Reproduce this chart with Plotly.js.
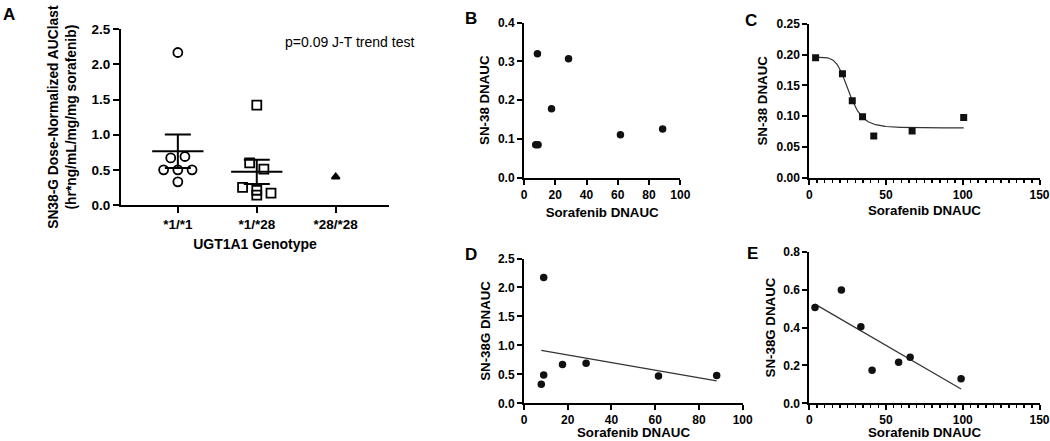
<!DOCTYPE html>
<html>
<head>
<meta charset="utf-8">
<script src="https://cdn.plot.ly/plotly-3.0.1.min.js"></script>
<style>html,body{margin:0;padding:0;background:#fff;}#chart{width:1050px;height:441px;}</style>
</head>
<body>
<div id="chart"></div>
<script>
// ---------- DATA ----------
const genotypes = ['*1/*1', '*1/*28', '*28/*28'];
const aucWildType = [2.17, 0.67, 0.69, 0.50, 0.50, 0.50, 0.33];      // *1/*1
const aucHetero   = [1.42, 0.60, 0.51, 0.25, 0.21, 0.17, 0.14];      // *1/*28
const aucHomo     = [0.40];                                          // *28/*28
const pText = 'p=0.09 J-T trend test';

const sorafenibB = [7.5, 9.0, 8.6, 17.6, 28.5, 61.7, 88.7];
const sn38B      = [0.085, 0.085, 0.320, 0.178, 0.307, 0.111, 0.126];

const sorafenibC = [4.1, 21.6, 28.0, 34.7, 42.0, 67.0, 100.6];
const sn38C      = [0.195, 0.169, 0.125, 0.099, 0.068, 0.076, 0.098];
// sigmoidal (Hill) fit parameters for panel C
const fitTop = 0.196, fitBottom = 0.081, fitEC50 = 26, fitHill = 6;

const sorafenibD = [9.0, 9.0, 7.9, 17.6, 28.4, 61.5, 88.1];
const sn38gD     = [2.17, 0.49, 0.33, 0.67, 0.69, 0.47, 0.48];

const sorafenibE = [3.7, 20.9, 33.6, 40.9, 58.2, 65.7, 98.9];
const sn38gE     = [0.505, 0.598, 0.404, 0.174, 0.216, 0.243, 0.130];

const xTitle = 'Sorafenib DNAUC';

// ---------- HELPERS ----------
const W = 1050, H = 441;
const FONT = 'Liberation Sans, Arial, Helvetica, sans-serif';
const dx = (a, b) => [a / W, b / W];
const dy = (top, bottom) => [1 - bottom / H, 1 - top / H];

function mean(a) { return a.reduce((s, v) => s + v, 0) / a.length; }
function sem(a) {
  if (a.length < 2) return 0;
  const m = mean(a);
  const v = a.reduce((s, x) => s + (x - m) * (x - m), 0) / (a.length - 1);
  return Math.sqrt(v / a.length);
}
// simple beeswarm: group close values into rows, spread each row symmetrically
function swarm(vals, center, thr, step) {
  const idx = vals.map((v, i) => i).sort((i, j) => vals[j] - vals[i]);
  const rows = [];
  idx.forEach(i => {
    const r = rows[rows.length - 1];
    if (r && Math.abs(vals[r[0]] - vals[i]) <= thr) r.push(i); else rows.push([i]);
  });
  const xs = new Array(vals.length);
  rows.forEach(r => {
    const ord = r.slice().sort((a, b) => a - b);
    ord.forEach((i, k) => { xs[i] = center + (k - (ord.length - 1) / 2) * step; });
  });
  return xs;
}
function linfit(x, y) {
  const mx = mean(x), my = mean(y);
  let sxy = 0, sxx = 0;
  x.forEach((xi, i) => { sxy += (xi - mx) * (y[i] - my); sxx += (xi - mx) * (xi - mx); });
  const b = sxy / sxx, a = my - b * mx;
  const x0 = Math.min(...x), x1 = Math.max(...x);
  return { x: [x0, x1], y: [a + b * x0, a + b * x1] };
}

const groups = [aucWildType, aucHetero, aucHomo];
const symbols = ['circle-open', 'square-open', 'triangle-up'];
const traces = [];

// ---------- PANEL A ----------
groups.forEach((g, gi) => {
  traces.push({
    x: swarm(g, gi, 0.1, 0.18), y: g, xaxis: 'x', yaxis: 'y',
    type: 'scatter', mode: 'markers', hoverinfo: 'y',
    marker: { symbol: symbols[gi], size: gi === 2 ? 7 : 9, color: '#000',
              line: { color: '#000', width: 1.8 } }
  });
  if (g.length > 1) {
    const m = mean(g), s = sem(g);
    traces.push({
      x: [gi - 0.325, gi + 0.325], y: [m, m], xaxis: 'x', yaxis: 'y',
      type: 'scatter', mode: 'lines', line: { color: '#000', width: 2 }, hoverinfo: 'skip'
    });
    traces.push({
      x: [gi], y: [m], xaxis: 'x', yaxis: 'y', type: 'scatter', mode: 'markers',
      marker: { size: 1, color: 'rgba(0,0,0,0)' },
      error_y: { type: 'data', array: [s], visible: true, color: '#000', thickness: 2, width: 13 },
      hoverinfo: 'skip'
    });
  }
});

// ---------- PANEL B ----------
traces.push({ x: sorafenibB, y: sn38B, xaxis: 'x2', yaxis: 'y2', type: 'scatter', mode: 'markers',
  marker: { symbol: 'circle', size: 7.5, color: '#111' } });

// ---------- PANEL C ----------
(function () {
  const x0 = Math.min(...sorafenibC), x1 = Math.max(...sorafenibC);
  const cx = [], cy = [];
  for (let i = 0; i <= 200; i++) {
    const x = x0 + (x1 - x0) * i / 200;
    cx.push(x);
    cy.push(fitBottom + (fitTop - fitBottom) / (1 + Math.pow(x / fitEC50, fitHill)));
  }
  traces.push({ x: cx, y: cy, xaxis: 'x3', yaxis: 'y3', type: 'scatter', mode: 'lines',
    line: { color: '#333', width: 1.2 }, hoverinfo: 'skip' });
})();
traces.push({ x: sorafenibC, y: sn38C, xaxis: 'x3', yaxis: 'y3', type: 'scatter', mode: 'markers',
  marker: { symbol: 'square', size: 7, color: '#111' } });

// ---------- PANEL D ----------
const fitD = linfit(sorafenibD, sn38gD);
traces.push({ x: fitD.x, y: fitD.y, xaxis: 'x4', yaxis: 'y4', type: 'scatter', mode: 'lines',
  line: { color: '#333', width: 1.2 }, hoverinfo: 'skip' });
traces.push({ x: sorafenibD, y: sn38gD, xaxis: 'x4', yaxis: 'y4', type: 'scatter', mode: 'markers',
  marker: { symbol: 'circle', size: 7.5, color: '#111' } });

// ---------- PANEL E ----------
const fitE = linfit(sorafenibE, sn38gE);
traces.push({ x: fitE.x, y: fitE.y, xaxis: 'x5', yaxis: 'y5', type: 'scatter', mode: 'lines',
  line: { color: '#333', width: 1.2 }, hoverinfo: 'skip' });
traces.push({ x: sorafenibE, y: sn38gE, xaxis: 'x5', yaxis: 'y5', type: 'scatter', mode: 'markers',
  marker: { symbol: 'circle', size: 7.5, color: '#111' } });

// ---------- LAYOUT ----------
function ax(extra) {
  return Object.assign({
    showline: true, linecolor: '#000', linewidth: 2, mirror: false,
    ticks: 'outside', ticklen: 5, tickwidth: 2, tickcolor: '#000',
    showgrid: false, zeroline: false, fixedrange: true, ticklabeloverflow: 'allow',
    tickfont: { family: FONT, size: 12, color: '#000', weight: 700 }
  }, extra);
}
function ttl(text, size, standoff) {
  return { text: text, standoff: standoff, font: { family: FONT, size: size, color: '#000', weight: 700 } };
}
const minorX = { dtick: 5, ticks: 'outside', ticklen: 3, tickwidth: 1.5, tickcolor: '#000', showgrid: false };
const C_RIGHT = 1039.5;

const layout = {
  width: W, height: H, margin: { l: 0, r: 0, t: 0, b: 0 },
  paper_bgcolor: '#fff', plot_bgcolor: '#fff', showlegend: false,
  font: { family: FONT, color: '#000' },
  // A
  xaxis: ax({ domain: dx(121, 389), anchor: 'y', range: [-0.72, 2.675],
    tickmode: 'array', tickvals: [0, 1, 2], ticktext: genotypes, ticklen: 6,
    tickfont: { family: FONT, size: 13.5, color: '#000', weight: 700 },
    title: ttl('UGT1A1 Genotype', 14, 8) }),
  yaxis: ax({ domain: dy(29.3, 205), anchor: 'x', range: [0, 2.5], dtick: 0.5, tickformat: '.1f',
    ticklen: 6, tickfont: { family: FONT, size: 13.5, color: '#000', weight: 700 },
    title: ttl('SN38-G Dose-Normalized AUClast<br>(hr*ng/mL/mg/mg sorafenib)', 13.8, 12) }),
  // B
  xaxis2: ax({ domain: dx(524, 680.3), anchor: 'y2', range: [0, 100], dtick: 20,
    title: ttl(xTitle, 13.3, 7) }),
  yaxis2: ax({ domain: dy(22.7, 177.7), anchor: 'x2', range: [0, 0.4], dtick: 0.1, tickformat: '.1f',
    title: ttl('SN-38 DNAUC', 13.3, 5) }),
  // C
  xaxis3: ax({ domain: dx(809.3, C_RIGHT), anchor: 'y3', range: [0, 150], dtick: 50, minor: minorX,
    title: ttl(xTitle, 13.3, 5) }),
  yaxis3: ax({ domain: dy(24, 177.7), anchor: 'x3', range: [0, 0.25], dtick: 0.05, tickformat: '.2f',
    title: ttl('SN-38 DNAUC', 13.3, 6) }),
  // D
  xaxis4: ax({ domain: dx(524, 742.7), anchor: 'y4', range: [0, 100], dtick: 20, ticklabelstandoff: -1 }),
  yaxis4: ax({ domain: dy(258.5, 403.3), anchor: 'x4', range: [0, 2.5], dtick: 0.5, tickformat: '.1f',
    title: ttl('SN-38G DNAUC', 13.3, 4) }),
  // E
  xaxis5: ax({ domain: dx(809.3, C_RIGHT), anchor: 'y5', range: [0, 150], dtick: 50, minor: minorX,
    ticklabelstandoff: -1 }),
  yaxis5: ax({ domain: dy(251.7, 403.3), anchor: 'x5', range: [0, 0.8], dtick: 0.2, tickformat: '.1f',
    title: ttl('SN-38G DNAUC', 13.3, 5) }),
  annotations: [
    { text: pText, xref: 'paper', yref: 'paper', x: 283 / W, y: 1 - 42 / H, xanchor: 'left', yanchor: 'middle',
      showarrow: false, font: { family: FONT, size: 14, color: '#000' } },
    // x-axis titles of the bottom row (kept inside the figure's lower edge)
    { text: xTitle, xref: 'x4 domain', yref: 'paper', x: 0.5, y: 0, xanchor: 'center', yanchor: 'bottom',
      showarrow: false, borderpad: 0, font: { family: FONT, size: 13.3, color: '#000', weight: 700 } },
    { text: xTitle, xref: 'x5 domain', yref: 'paper', x: 0.5, y: 0, xanchor: 'center', yanchor: 'bottom',
      showarrow: false, borderpad: 0, font: { family: FONT, size: 13.3, color: '#000', weight: 700 } },
    ...[['A', 8.5, 14.5], ['B', 471, 19], ['C', 751, 20], ['D', 471, 254.5], ['E', 752.5, 253]].map(p => ({
      text: p[0], xref: 'paper', yref: 'paper', x: p[1] / W, y: 1 - p[2] / H,
      xanchor: 'center', yanchor: 'middle', showarrow: false,
      font: { family: FONT, size: 17, color: '#000', weight: 700 }
    }))
  ]
};

Plotly.newPlot('chart', traces, layout, { staticPlot: true, displayModeBar: false });
</script>
</body>
</html>
